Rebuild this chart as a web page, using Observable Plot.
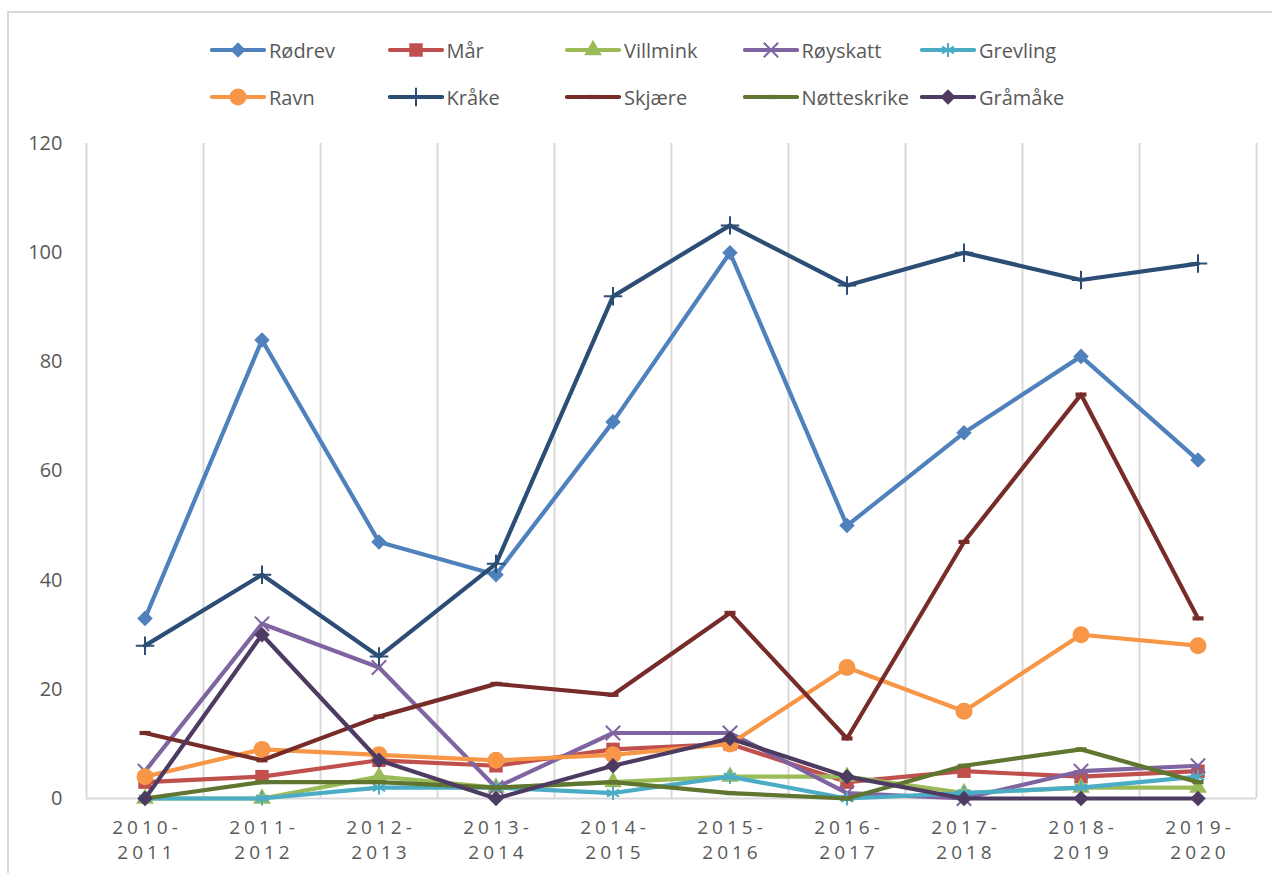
<!DOCTYPE html>
<html><head><meta charset="utf-8">
<script src="https://cdn.jsdelivr.net/npm/d3@7"></script>
<script src="https://cdn.jsdelivr.net/npm/@observablehq/plot@0.6"></script>
<style>
body{margin:0;background:#fff;}
#wrap{position:relative;width:1272px;height:873px;overflow:hidden;font-family:"Open Sans",sans-serif;background:#fff;}
#frame{position:absolute;left:7px;top:11px;width:1400px;height:1000px;border-left:2px solid #d9d9d9;border-top:2px solid #d9d9d9;}
#chart{position:absolute;left:0;top:0;}
.leg{position:absolute;height:30px;display:flex;align-items:center;white-space:nowrap;font-size:20px;color:#595959;}
.leg svg{display:block;margin-right:3px;}
</style></head><body>
<div id="wrap"><div id="chart"></div><div id="frame"></div><div id="legend"></div></div>
<script>
const seasons = ["2010-2011","2011-2012","2012-2013","2013-2014","2014-2015","2015-2016","2016-2017","2017-2018","2018-2019","2019-2020"];
const yTicks = [0,20,40,60,80,100,120];

const rodrev      = [33,84,47,41,69,100,50,67,81,62];
const mar         = [3,4,7,6,9,10,3,5,4,5];
const villmink    = [0,0,4,2,3,4,4,1,2,2];
const royskatt    = [5,32,24,2,12,12,1,0,5,6];
const grevling    = [0,0,2,2,1,4,0,1,2,4];
const ravn        = [4,9,8,7,8,10,24,16,30,28];
const krake       = [28,41,26,43,92,105,94,100,95,98];
const skjaere     = [12,7,15,21,19,34,11,47,74,33];
const notteskrike = [0,3,3,2,3,1,0,6,9,3];
const gramake     = [0,30,7,0,6,11,4,0,0,0];

const names  = ["Rødrev","Mår","Villmink","Røyskatt","Grevling","Ravn","Kråke","Skjære","Nøtteskrike","Gråmåke"];
const values = [rodrev,mar,villmink,royskatt,grevling,ravn,krake,skjaere,notteskrike,gramake];
const colors = ["#4F81BD","#C0504D","#9BBB59","#8064A2","#4BACC6","#F79646","#2C4D75","#772C2A","#5F7530","#4D3B62"];

const dash = {draw(ctx, size){ const r = Math.sqrt(size/Math.PI); ctx.rect(-r, -r*0.38, 2*r, r*0.76); }};
const symbols = [d3.symbolDiamond2, d3.symbolSquare, d3.symbolTriangle, d3.symbolTimes, d3.symbolAsterisk, d3.symbolCircle, d3.symbolPlus, dash, dash, d3.symbolDiamond2];
const radii   = [7, 7.6, 6.6, 6.6, 6.6, 8.5, 6, 5.5, 5.5, 7];
const filled  = [true, true, true, false, false, true, false, true, true, true];

const rows = [];
names.forEach((n, k) => values[k].forEach((v, i) => rows.push({series: n, k, i, value: v})));

const boundaries = d3.range(seasons.length + 1).map(i => i - 0.5);

const marks = [
  Plot.ruleX(boundaries, {x: d => d, y1: 0, y2: 120, stroke: "#d9d9d9", strokeWidth: 2}),
  Plot.ruleY([0], {stroke: "#d9d9d9", strokeWidth: 2}),
  Plot.axisY(yTicks, {label: null, tickSize: 0, tickPadding: 24, fontSize: 20, fill: "#595959"}),
  Plot.axisX(d3.range(seasons.length), {label: null, tickSize: 0, tickPadding: 17, fontSize: 19, fill: "#595959", lineHeight: 1.35,
    tickFormat: i => seasons[i].replace("-", "-\n")})
];
names.forEach((n, k) => {
  const data = rows.filter(d => d.k === k);
  marks.push(Plot.line(data, {x: "i", y: "value", stroke: colors[k], strokeWidth: 4.2, strokeLinejoin: "round", strokeLinecap: "round"}));
  marks.push(Plot.dot(data, {x: "i", y: "value", symbol: symbols[k], r: radii[k],
    fill: filled[k] ? colors[k] : "none", stroke: colors[k], strokeWidth: filled[k] ? 0 : 2}));
});

const svg = Plot.plot({
  width: 1272, height: 873,
  marginLeft: 86, marginRight: 16, marginTop: 143, marginBottom: 75,
  style: {fontFamily: "'Open Sans', sans-serif", background: "#fff"},
  x: {domain: [-0.5, seasons.length - 0.5], axis: null, label: null},
  y: {domain: [0, 120], axis: null, label: null},
  marks
});
svg.querySelectorAll('[aria-label="x-axis tick label"]').forEach(g => {
  g.setAttribute("letter-spacing", "4");
  g.setAttribute("transform", (g.getAttribute("transform") || "") + " translate(2,0)");
});
document.getElementById("chart").appendChild(svg);

// legend
const legend = document.getElementById("legend");
names.forEach((n, k) => {
  const col = k % 5, row = Math.floor(k / 5);
  const div = document.createElement("div");
  div.className = "leg";
  div.style.left = (210 + col * 177.5) + "px";
  div.style.top = (row === 0 ? 35 : 82) + "px";
  const s = d3.create("svg").attr("width", 56).attr("height", 30);
  s.append("line").attr("x1", 2).attr("x2", 54).attr("y1", 15).attr("y2", 15)
    .attr("stroke", colors[k]).attr("stroke-width", 4.2).attr("stroke-linecap", "round");
  s.append("path").attr("transform", "translate(28,15)")
    .attr("d", d3.symbol(symbols[k], Math.PI * radii[k] * radii[k])())
    .attr("fill", filled[k] ? colors[k] : "none").attr("stroke", colors[k]).attr("stroke-width", filled[k] ? 0 : 2);
  div.appendChild(s.node());
  const t = document.createElement("span");
  t.textContent = n;
  div.appendChild(t);
  legend.appendChild(div);
});
</script>
</body></html>
